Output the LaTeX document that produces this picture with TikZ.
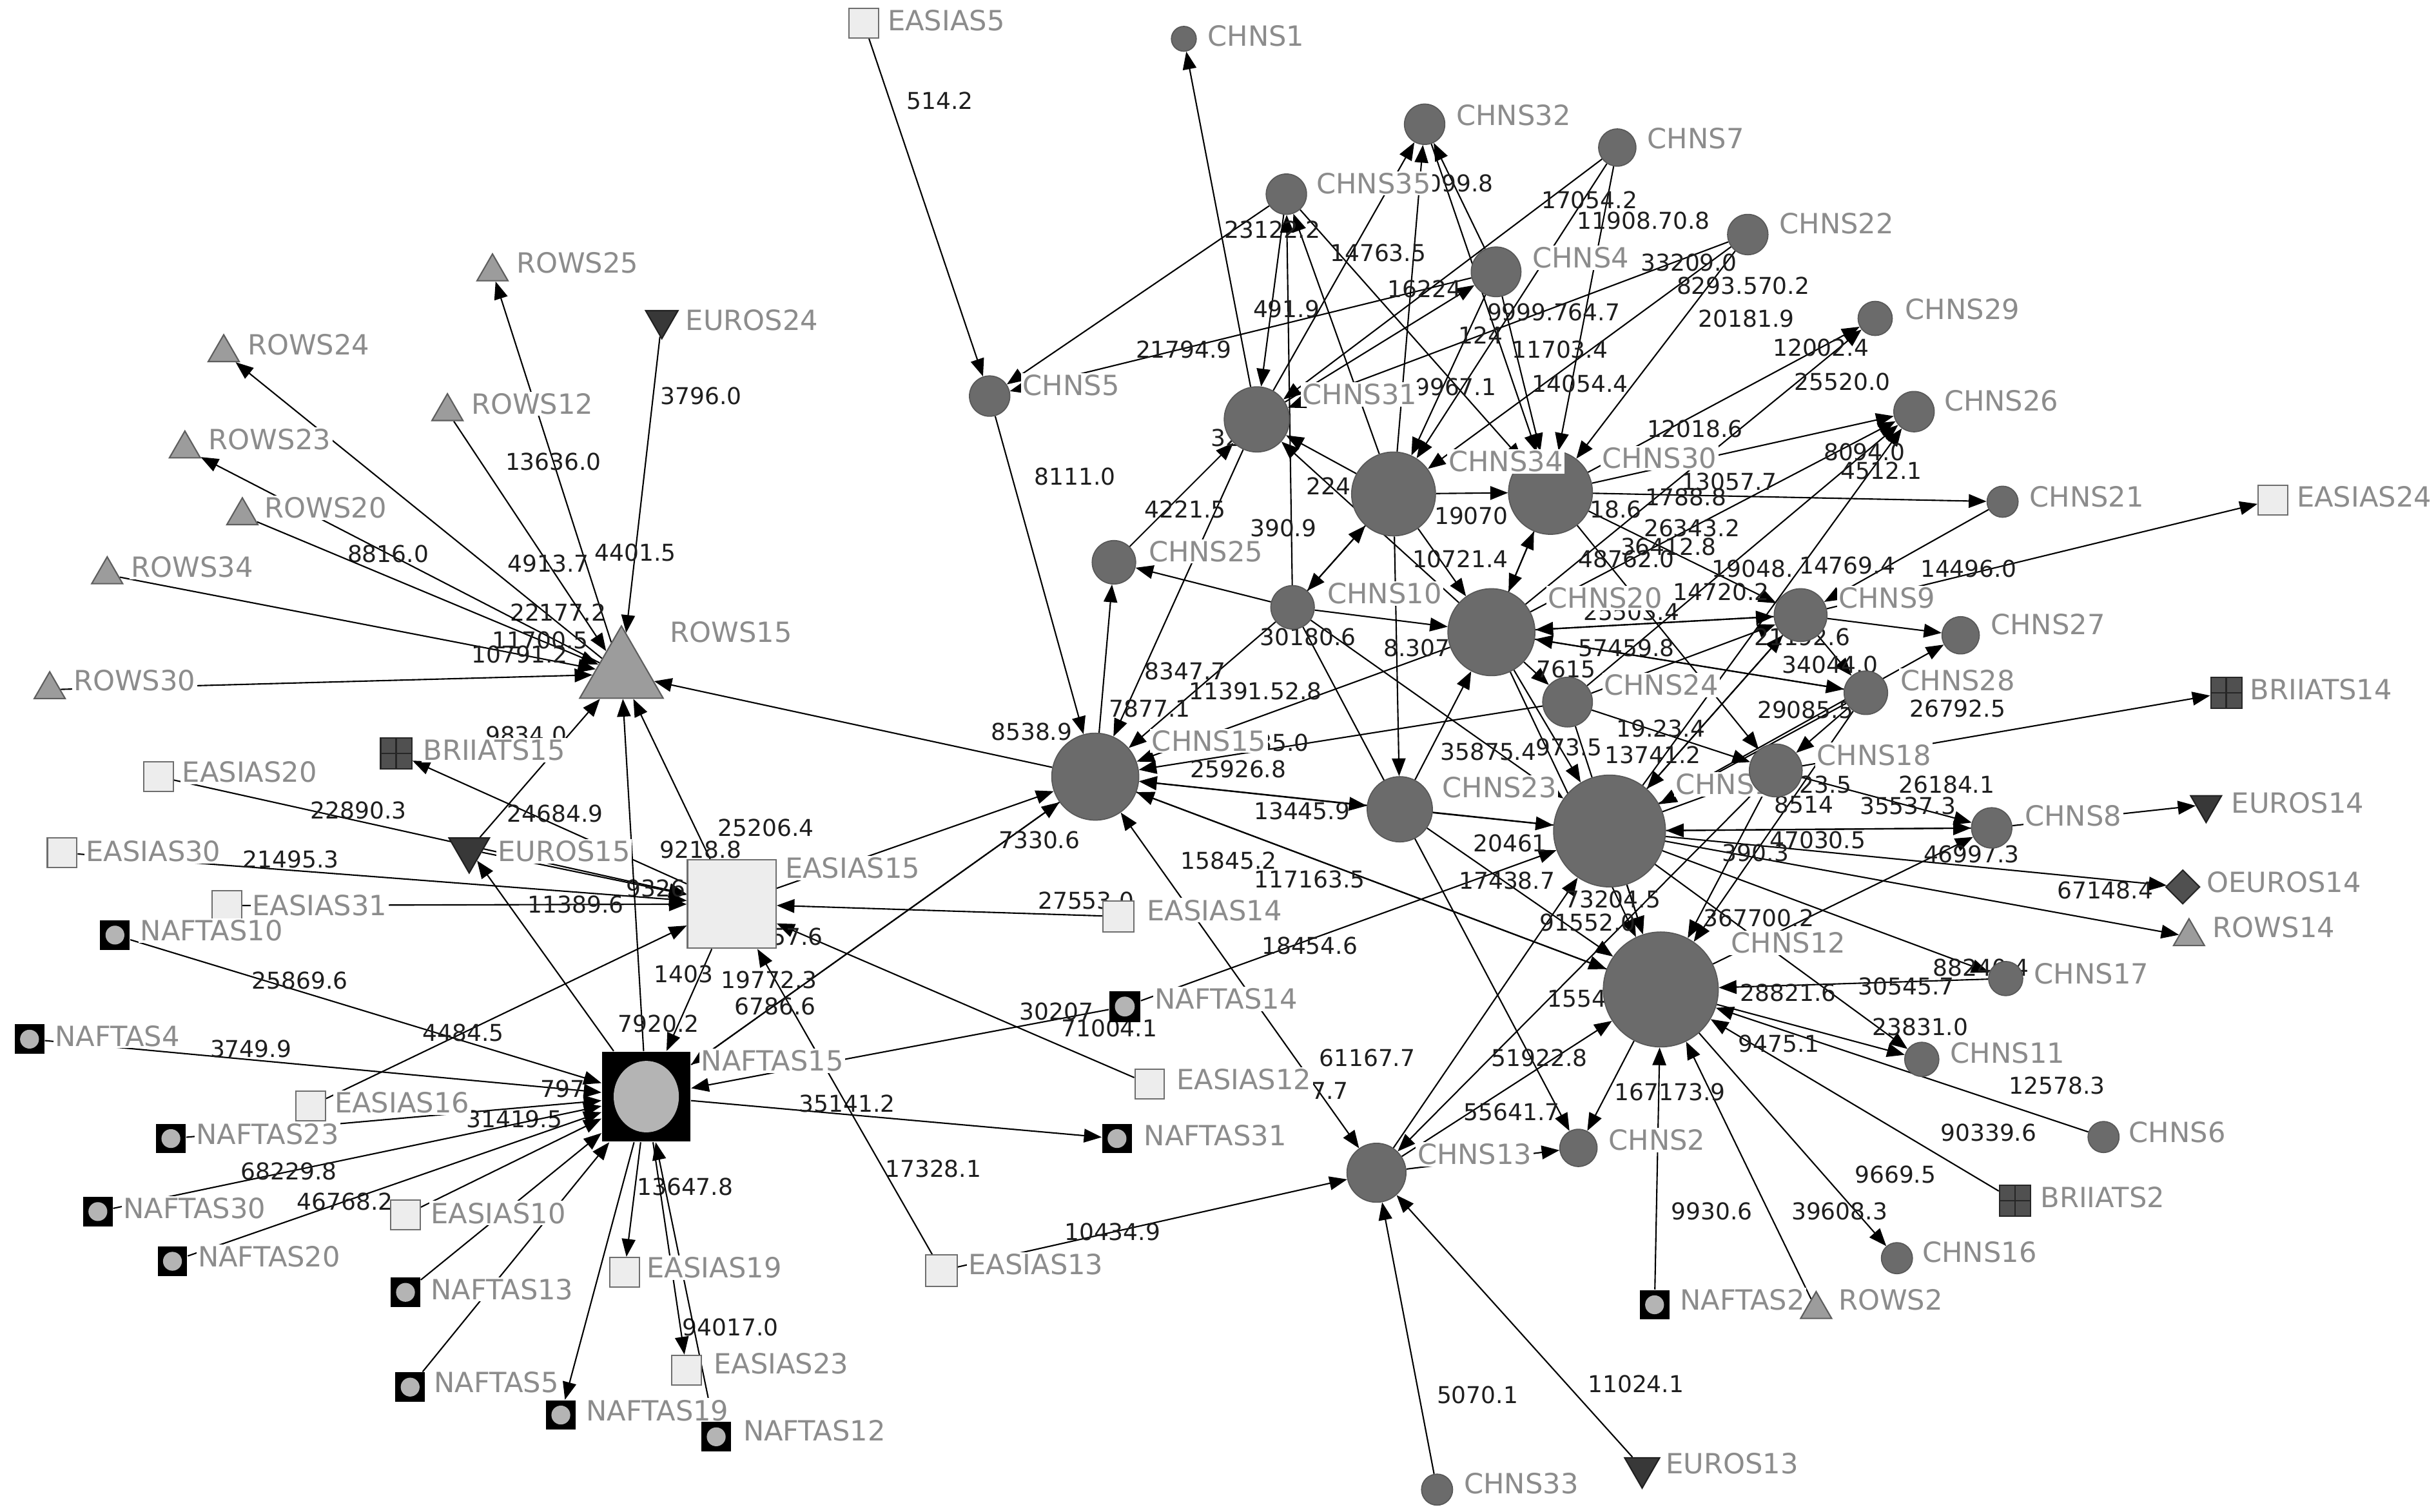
\documentclass[tikz,border=0pt]{standalone}
\usepackage{fontspec}
\setmainfont{DejaVu Sans}
\usetikzlibrary{shapes.geometric,arrows.meta}
\definecolor{chf}{HTML}{6B6B6B}
\definecolor{chd}{HTML}{585858}
\definecolor{esf}{HTML}{EDEDED}
\definecolor{esd}{HTML}{6E6E6E}
\definecolor{rwf}{HTML}{9C9C9C}
\definecolor{rwd}{HTML}{5E5E5E}
\definecolor{euf}{HTML}{383838}
\definecolor{eud}{HTML}{202020}
\definecolor{brf}{HTML}{505050}
\definecolor{brd}{HTML}{262626}
\definecolor{nff}{HTML}{B4B4B4}
\definecolor{nmc}{HTML}{8C8C8C}
\definecolor{elc}{HTML}{1E1E1E}
\newcommand\nmfnt{\fontsize{10.2}{12}\selectfont}
\newcommand\elfnt{\fontsize{8.5}{10}\selectfont}
\pgfdeclarelayer{bg}
\pgfsetlayers{bg,main}
\begin{document}
\begin{tikzpicture}[x=0.02cm,y=-0.02cm,
 chn/.style={circle,fill=chf,draw=chd,line width=0.4pt,inner sep=0pt,minimum size=#1*0.04cm},
 esq/.style={rectangle,fill=esf,draw=esd,line width=0.5pt,inner sep=0pt,minimum size=#1*0.02cm},
 esq/.default=19,
 naf/.style={rectangle,fill=black,inner sep=0pt,minimum size=#1*0.02cm,
   path picture={\fill[nff] (path picture bounding box.center) circle[radius=#1*0.0064cm];}},
 naf/.default=19,
 rows/.style={regular polygon,regular polygon sides=3,fill=rwf,draw=rwd,line width=0.5pt,inner sep=0pt,minimum size=#1*0.02cm},
 rows/.default=23,
 eur/.style={regular polygon,regular polygon sides=3,shape border rotate=180,fill=euf,draw=eud,line width=0.5pt,inner sep=0pt,minimum size=#1*0.02cm},
 eur/.default=24,
 bri/.style={rectangle,fill=brf,draw=brd,line width=0.5pt,inner sep=0pt,minimum size=#1*0.02cm,
   path picture={\draw[brd,line width=0.6pt] (path picture bounding box.north) -- (path picture bounding box.south);
                 \draw[brd,line width=0.6pt] (path picture bounding box.west) -- (path picture bounding box.east);}},
 bri/.default=20,
 oeu/.style={diamond,fill=brf,draw=brd,line width=0.5pt,inner sep=0pt,minimum size=#1*0.02cm},
 nmlab/.style={text=nmc,font=\nmfnt,inner sep=0.6pt,fill=white,anchor=west},
 elab/.style={text=elc,font=\elfnt,inner sep=0.5pt},
 edg/.style={draw=black,line width=0.5pt,-{Triangle[length=6.5pt,width=5pt]}},
 edg2/.style={draw=black,line width=0.5pt,{Triangle[length=6.5pt,width=5pt]}-{Triangle[length=6.5pt,width=5pt]}},
]
\useasboundingbox (0,0) rectangle (1568,973);
% ---------------- nodes with their names: left cluster
\node[rows] (R25) at (317,175) {};        \node[nmlab] (tR25) at (331,169) {ROWS25};
\node[rows] (R24) at (144,227) {};        \node[nmlab] (tR24) at (158,222) {ROWS24};
\node[rows] (R12) at (288,265) {};        \node[nmlab] (tR12) at (302,260) {ROWS12};
\node[rows] (R23) at (119,289) {};        \node[nmlab] (tR23) at (133,283) {ROWS23};
\node[rows] (R20) at (156,332) {};        \node[nmlab] (tR20) at (169,327) {ROWS20};
\node[rows] (R34) at (69,370) {};         \node[nmlab] (tR34) at (83,365) {ROWS34};
\node[rows] (R30) at (32,444) {};         \node[nmlab] (tR30) at (46,438) {ROWS30};
\node[rows=62] (R15) at (400,434) {};     \node[nmlab] (tR15) at (430,407) {ROWS15};
\node[eur] (E24) at (426,206) {};         \node[nmlab] (tE24) at (440,206) {EUROS24};
\node[bri] (B15) at (255,485) {};         \node[nmlab] (tB15) at (271,483) {BRIIATS15};
\node[esq] (S20) at (102,500) {};         \node[nmlab] (tS20) at (116,497) {EASIAS20};
\node[eur=30] (E15) at (302,547) {};      \node[nmlab] (tE15) at (319,548) {EUROS15};
\node[esq] (S30) at (40,549) {};          \node[nmlab] (tS30) at (54,548) {EASIAS30};
\node[esq=57] (S15) at (471,582) {};      \node[nmlab] (tS15) at (504,559) {EASIAS15};
\node[esq] (S31) at (146,583) {};         \node[nmlab] (tS31) at (161,583) {EASIAS31};
\node[naf] (N10) at (74,602) {};          \node[nmlab] (tN10) at (89,599) {NAFTAS10};
\node[naf] (N4) at (19,669) {};           \node[nmlab] (tN4) at (34,667) {NAFTAS4};
\node[rectangle,fill=black,inner sep=0pt,minimum width=57*0.02cm,minimum height=58*0.02cm,
  path picture={\fill[nff] (path picture bounding box.center) ellipse[x radius=0.42cm,y radius=0.46cm];}] (N15) at (416,706) {};
\node[nmlab] (tN15) at (450,683) {NAFTAS15};
\node[esq] (S16) at (200,712) {};         \node[nmlab] (tS16) at (214,710) {EASIAS16};
\node[naf] (N23) at (110,733) {};         \node[nmlab] (tN23) at (125,730) {NAFTAS23};
\node[naf] (N30) at (63,780) {};          \node[nmlab] (tN30) at (78,778) {NAFTAS30};
\node[esq] (S10) at (261,782) {};         \node[nmlab] (tS10) at (276,781) {EASIAS10};
\node[naf] (N20) at (111,812) {};         \node[nmlab] (tN20) at (126,809) {NAFTAS20};
\node[naf] (N13) at (261,832) {};         \node[nmlab] (tN13) at (276,830) {NAFTAS13};
\node[esq] (S19) at (402,819) {};         \node[nmlab] (tS19) at (415,816) {EASIAS19};
\node[naf] (N5) at (264,893) {};          \node[nmlab] (tN5) at (278,890) {NAFTAS5};
\node[esq] (S23) at (442,882) {};         \node[nmlab] (tS23) at (458,878) {EASIAS23};
\node[naf] (N19) at (361,911) {};         \node[nmlab] (tN19) at (376,908) {NAFTAS19};
\node[naf] (N12) at (461,925) {};         \node[nmlab] (tN12) at (477,921) {NAFTAS12};
\node[esq=20] (S13) at (606,818) {};      \node[nmlab] (tS13) at (622,814) {EASIAS13};
\node[naf] (N31) at (719,733) {};         \node[nmlab] (tN31) at (735,731) {NAFTAS31};
\node[esq] (S12) at (740,698) {};         \node[nmlab] (tS12) at (756,695) {EASIAS12};
\node[naf=20] (N14) at (724,648) {};      \node[nmlab] (tN14) at (742,643) {NAFTAS14};
\node[esq=20] (S14) at (720,590) {};      \node[nmlab] (tS14) at (737,586) {EASIAS14};
\node[esq] (S5) at (556,15) {};           \node[nmlab] (tS5) at (570,13) {EASIAS5};
% ---------------- nodes with their names: CHN cluster
\node[chn=8] (C1) at (762,25) {};         \node[nmlab] (tC1) at (776,23) {CHNS1};
\node[chn=13] (C5) at (637,255) {};       \node[nmlab] (tC5) at (657,248) {CHNS5};
\node[chn=13] (C32) at (917,80) {};       \node[nmlab] (tC32) at (936,74) {CHNS32};
\node[chn=12] (C7) at (1041,95) {};       \node[nmlab] (tC7) at (1059,89) {CHNS7};
\node[chn=13] (C35) at (828,125) {};      \node[nmlab] (tC35) at (846,118) {CHNS35};
\node[chn=13] (C22) at (1125,151) {};     \node[nmlab] (tC22) at (1144,144) {CHNS22};
\node[chn=16] (C4) at (963,175) {};       \node[nmlab] (tC4) at (985,166) {CHNS4};
\node[chn=11] (C29) at (1207,205) {};     \node[nmlab] (tC29) at (1225,199) {CHNS29};
\node[chn=21] (C31) at (809,270) {};      \node[nmlab] (tC31) at (837,254) {CHNS31};
\node[chn=13] (C26) at (1232,265) {};     \node[nmlab] (tC26) at (1250,258) {CHNS26};
\node[chn=27] (C30) at (998,317) {};      \node[nmlab] (tC30) at (1030,295) {CHNS30};
\node[chn=27] (C34) at (897,318) {};      \node[nmlab] (tC34) at (931,297) {CHNS34};
\node[chn=10] (C21) at (1289,323) {};     \node[nmlab] (tC21) at (1305,320) {CHNS21};
\node[esq] (S24) at (1463,322) {};        \node[nmlab] (tS24) at (1477,320) {EASIAS24};
\node[chn=14] (C25) at (717,362) {};      \node[nmlab] (tC25) at (738,355) {CHNS25};
\node[chn=14] (C10) at (832,391) {};      \node[nmlab] (tC10) at (853,382) {CHNS10};
\node[chn=28] (C20) at (960,407) {};      \node[nmlab] (tC20) at (995,385) {CHNS20};
\node[chn=17] (C9) at (1159,396) {};      \node[nmlab] (tC9) at (1182,385) {CHNS9};
\node[chn=12] (C27) at (1262,409) {};     \node[nmlab] (tC27) at (1280,402) {CHNS27};
\node[chn=14] (C28) at (1201,446) {};     \node[nmlab] (tC28) at (1222,438) {CHNS28};
\node[bri] (B14) at (1433,446) {};        \node[nmlab] (tB14) at (1447,444) {BRIIATS14};
\node[chn=16] (C24) at (1009,452) {};     \node[nmlab] (tC24) at (1031,441) {CHNS24};
\node[chn=28] (C15) at (705,500) {};      \node[nmlab] (tC15) at (740,477) {CHNS15};
\node[chn=36] (C14) at (1036,535) {};     \node[nmlab] (tC14) at (1077,505) {CHNS14};
\node[chn=17] (C18) at (1143,496) {};     \node[nmlab] (tC18) at (1168,486) {CHNS18};
\node[chn=21] (C23) at (901,521) {};      \node[nmlab] (tC23) at (927,507) {CHNS23};
\node[eur=23] (U14) at (1420,518) {};     \node[nmlab] (tU14) at (1435,517) {EUROS14};
\node[chn=13] (C8) at (1282,533) {};      \node[nmlab] (tC8) at (1302,525) {CHNS8};
\node[oeu=22] (O14) at (1405,571) {};     \node[nmlab] (tO14) at (1419,568) {OEUROS14};
\node[rows] (W14) at (1409,603) {};       \node[nmlab] (tW14) at (1423,597) {ROWS14};
\node[chn=37] (C12) at (1069,637) {};     \node[nmlab] (tC12) at (1113,607) {CHNS12};
\node[chn=11] (C17) at (1291,630) {};     \node[nmlab] (tC17) at (1308,627) {CHNS17};
\node[chn=11] (C11) at (1237,682) {};     \node[nmlab] (tC11) at (1254,678) {CHNS11};
\node[chn=10] (C6) at (1354,732) {};      \node[nmlab] (tC6) at (1369,729) {CHNS6};
\node[chn=12] (C2) at (1016,739) {};      \node[nmlab] (tC2) at (1034,734) {CHNS2};
\node[chn=19] (C13) at (886,755) {};      \node[nmlab] (tC13) at (911,743) {CHNS13};
\node[bri] (B2) at (1297,773) {};         \node[nmlab] (tB2) at (1312,771) {BRIIATS2};
\node[chn=10] (C16) at (1221,810) {};     \node[nmlab] (tC16) at (1236,806) {CHNS16};
\node[naf] (N2) at (1065,840) {};         \node[nmlab] (tN2) at (1080,837) {NAFTAS2};
\node[rows] (W2) at (1169,843) {};        \node[nmlab] (tW2) at (1182,837) {ROWS2};
\node[eur=26] (U13) at (1057,945) {};     \node[nmlab] (tU13) at (1071,942) {EUROS13};
\node[chn=10] (C33) at (925,959) {};      \node[nmlab] (tC33) at (941,955) {CHNS33};
% ---------------- connectors
\begin{pgfonlayer}{bg}
\fill[white] (0,0) rectangle (1568,973);
% left cluster
\draw[edg] (R15) -- node[elab,pos=.5]{13636.0} (R25);
\draw[edg] (R15) -- node[elab,pos=.12,anchor=south]{22177.2} (R24);
\draw[edg] (R15) -- node[elab,pos=.53]{8816.0} (R23);
\draw[edg] (R12) -- node[elab,pos=.62]{4913.7} (R15);
\draw[edg] (R20) -- node[elab,pos=.83]{11700.5} (R15);
\draw[edg] (R34) -- node[elab,pos=.84]{10791.2} (R15);
\draw[edg] (R30) -- (R15);
\draw[edg] (E24) -- node[elab,pos=.2,anchor=west,xshift=2pt]{3796.0} node[elab,pos=.73]{4401.5} (R15);
\draw[edg] (E15) -- node[elab,pos=.74,anchor=east]{9834.0} (R15);
\draw[edg] (S20) -- node[elab,pos=.36,anchor=south]{22890.3} (S15);
\draw[edg] (S15) -- node[elab,pos=.48,anchor=south]{24684.9} (B15);
\draw[edg] (S30) -- node[elab,pos=.35,anchor=south]{21495.3} (S15);
\draw[edg] (S31) -- node[elab,pos=.75]{11389.6} (S15);
\draw[edg] (E15) -- node[elab,pos=.85]{9326} (S15);
\draw[edg] (N15) -- (E15);
\draw[edg] (N10) -- node[elab,pos=.36,anchor=south]{25869.6} (N15);
\draw[edg] (S16) -- node[elab,pos=.38]{4484.5} (S15);
\draw[edg] (N4) -- node[elab,pos=.37,anchor=south]{3749.9} node[elab,pos=.93]{797} (N15);
\draw[edg] (N23) -- node[elab,pos=.79,anchor=north]{31419.5} (N15);
\draw[edg] (N30) -- node[elab,pos=.36]{68229.8} (N15);
\draw[edg] (N20) -- node[elab,pos=.38]{46768.2} (N15);
\draw[edg] (N13) -- node[elab,pos=.51,anchor=north]{17330.2} (N15);
\draw[edg] (S10) -- (N15);
\draw[edg] (N5) -- (N15);
\draw[edg] (N15) -- (N19);
\draw[edg] (N15) -- node[elab,pos=.39,anchor=west]{13647.8} (S19);
\draw[edg] (N15) -- node[elab,pos=.87,anchor=west]{94017.0} (S23);
\draw[edg] (N12) -- (N15);
\draw[edg] (N15) -- node[elab,pos=.38,anchor=south]{35141.2} (N31);
\draw[edg] (S13) -- node[elab,pos=.28,anchor=west]{17328.1} (S15);
\draw[edg] (S12) -- (S15);
\draw[edg] (N14) -- (N15);
\draw[edg] (S14) -- (S15);
\draw[edg] (S15) -- (R15);
\draw[edg] (N15) -- (R15);
\draw[edg] (C15) -- (R15);
\draw[edg] (S15) -- (N15);
\draw[edg] (C15) -- (N15);
\draw[edg] (N15) -- (C15);
\draw[edg] (S15) -- (C15);
% CHN cluster
\draw[edg] (S5) -- (C5);
\draw[edg] (C5) -- (C15);
\draw[edg] (C35) -- (C5);
\draw[edg] (C4) -- (C5);
\draw[edg] (C31) -- (C1);
\draw[edg] (C10) -- (C35);
\draw[edg] (C35) -- (C31);
\draw[edg] (C34) -- (C35);
\draw[edg] (C31) -- (C32);
\draw[edg] (C34) -- (C32);
\draw[edg] (C4) -- (C32);
\draw[edg] (C7) -- (C34);
\draw[edg] (C7) -- (C31);
\draw[edg] (C7) -- (C30);
\draw[edg] (C22) -- (C31);
\draw[edg] (C22) -- (C34);
\draw[edg] (C22) -- (C30);
\draw[edg] (C31) -- (C4);
\draw[edg] (C4) -- (C34);
\draw[edg] (C4) -- (C30);
\draw[edg] (C32) -- (C30);
\draw[edg] (C35) -- (C30);
\draw[edg] (C34) -- (C31);
\draw[edg] (C20) -- (C31);
\draw[edg] (C25) -- (C31);
\draw[edg] (C31) -- (C15);
\draw[edg] (C10) -- (C25);
\draw[edg] (C15) -- (C25);
\draw[edg] (C34) -- (C10);
\draw[edg] (C10) -- (C34);
\draw[edg] (C34) -- (C23);
\draw[edg] (C23) -- (C20);
\draw[edg] (C10) -- (C15);
\draw[edg] (C20) -- (C15);
\draw[edg] (C24) -- (C15);
\draw[edg] (C14) -- (C15);
\draw[edg2] (C15) -- (C23);
\draw[edg] (C12) -- (C15);
\draw[edg] (C15) -- (C12);
\draw[edg] (N14) -- (C14);
\draw[edg2] (C15) -- (C13);
\draw[edg] (S13) -- (C13);
\draw[edg] (C33) -- (C13);
\draw[edg] (U13) -- (C13);
\draw[edg] (C13) -- (C2);
\draw[edg] (C18) -- (C13);
\draw[edg] (C10) -- (C2);
\draw[edg] (C12) -- (C2);
\draw[edg] (N2) -- (C12);
\draw[edg] (W2) -- (C12);
\draw[edg] (C12) -- (C16);
\draw[edg] (B2) -- (C12);
\draw[edg] (C6) -- (C12);
\draw[edg] (C12) -- (C11);
\draw[edg] (C14) -- (C11);
\draw[edg] (C17) -- (C12);
\draw[edg] (C14) -- (C17);
\draw[edg] (C14) -- (W14);
\draw[edg] (C14) -- (O14);
\draw[edg] (C8) -- (U14);
\draw[edg] (C18) -- (B14);
\draw[edg] (C14) -- (C8);
\draw[edg] (C18) -- (C8);
\draw[edg] (C12) -- (C8);
\draw[edg] (C9) -- (S24);
\draw[edg] (C21) -- (C9);
\draw[edg] (C30) -- (C21);
\draw[edg] (C9) -- (C27);
\draw[edg] (C14) -- (C27);
\draw[edg] (C30) -- (C29);
\draw[edg] (C20) -- (C29);
\draw[edg] (C30) -- (C26);
\draw[edg] (C24) -- (C26);
\draw[edg] (C14) -- (C26);
\draw[edg] (C20) -- (C26);
\draw[edg] (C34) -- (C30);
\draw[edg] (C34) -- (C20);
\draw[edg] (C30) -- (C20);
\draw[edg] (C20) -- (C30);
\draw[edg] (C30) -- (C9);
\draw[edg] (C30) -- (C18);
\draw[edg] (C20) -- (C9);
\draw[edg] (C20) -- (C28);
\draw[edg] (C24) -- (C9);
\draw[edg] (C9) -- (C20);
\draw[edg] (C28) -- (C20);
\draw[edg] (C20) -- (C24);
\draw[edg] (C20) -- (C14);
\draw[edg] (C24) -- (C18);
\draw[edg] (C24) -- (C12);
\draw[edg] (C23) -- (C14);
\draw[edg] (C13) -- (C14);
\draw[edg] (C14) -- (C12);
\draw[edg] (C20) -- (C12);
\draw[edg] (C23) -- (C12);
\draw[edg] (C13) -- (C12);
\draw[edg] (C18) -- (C12);
\draw[edg] (C28) -- (C12);
\draw[edg] (C9) -- (C14);
\draw[edg] (C28) -- (C14);
\draw[edg] (C14) -- (C18);
\draw[edg] (C8) -- (C14);
\draw[edg] (C14) -- (C9);
\draw[edg] (C28) -- (C18);
\draw[edg] (C9) -- (C28);
\draw[edg] (C10) -- (C20);
\draw[edg] (C10) -- (C14);
% connector labels in the dense part
\begin{scope}[every node/.style={elab}]
\node (l001) at (605,65) {514.2};
\node (l002) at (692,307) {8111.0};
\node (l003) at (664,471) {8538.9};
\node (l004) at (819,148) {23122.2};
\node (l005) at (762,225) {21794.9};
\node (l006) at (828,199) {491.9};
\node (l007) at (887,163) {14763.5};
\node (l008) at (935,118) {5099.8};
\node (l009) at (917,186) {16224};
\node (l010) at (1000,201) {9999.764.7};
\node (l011) at (1058,142) {11908.70.8};
\node (l012) at (1023,129) {17054.2};
\node (l013) at (1087,169) {33209.0};
\node (l014) at (1122,184) {8293.570.2};
\node (l015) at (1124,205) {20181.9};
\node (l016) at (953,216) {124};
\node (l017) at (1004,225) {11703.4};
\node (l018) at (937,249) {9967.1};
\node (l019) at (1017,247) {14054.4};
\node (l020) at (1091,276) {12018.6};
\node (l021) at (1113,310) {13057.7};
\node (l022) at (855,313) {224};
\node (l023) at (947,332) {19070};
\node (l024) at (1040,328) {18.6};
\node (l025) at (1085,320) {1788.8};
\node (l026) at (1089,340) {26343.2};
\node (l027) at (1074,352) {36412.8};
\node (l028) at (940,360) {10721.4};
\node (l029) at (1047,360) {48762.0};
\node (l030) at (826,340) {390.9};
\node (l031) at (763,328) {4221.5};
\node (l032) at (789,282) {32};
\node (l033) at (842,410) {30180.6};
\node (l034) at (912,417) {8.307};
\node (l035) at (1128,366) {19048.};
\node (l036) at (1189,364) {14769.4};
\node (l037) at (1108,381) {14720.2};
\node (l038) at (1160,410) {21192.6};
\node (l039) at (1178,428) {34044.0};
\node (l040) at (1047,417) {57459.8};
\node (l041) at (1050,394) {25503.4};
\node (l042) at (1008,431) {7615};
\node (l043) at (1069,469) {19.23.4};
\node (l044) at (1162,457) {29085.5};
\node (l045) at (1260,456) {26792.5};
\node (l046) at (958,484) {35875.4};
\node (l047) at (1010,481) {973.5};
\node (l048) at (1064,486) {13741.2};
\node (l049) at (826,478) {85.0};
\node (l050) at (797,495) {25926.8};
\node (l051) at (763,432) {8347.7};
\node (l052) at (808,445) {11391.52.8};
\node (l053) at (740,456) {7877.1};
\node (l054) at (838,522) {13445.9};
\node (l055) at (791,554) {15845.2};
\node (l056) at (843,566) {117163.5};
\node (l057) at (843,609) {18454.6};
\node (l058) at (880,681) {61167.7};
\node (l059) at (856,702) {7.7};
\node (l060) at (972,543) {20461};
\node (l061) at (970,567) {17438.7};
\node (l062) at (1038,579) {73204.5};
\node (l063) at (1022,594) {91552.0};
\node (l064) at (1132,591) {367700.2};
\node (l065) at (1015,643) {1554};
\node (l066) at (1151,639) {28821.6};
\node (l067) at (1227,635) {30545.7};
\node (l068) at (1275,623) {88240.4};
\node (l069) at (1236,661) {23831.0};
\node (l070) at (1145,672) {9475.1};
\node (l071) at (1324,699) {12578.3};
\node (l072) at (991,681) {51922.8};
\node (l073) at (973,716) {55641.7};
\node (l074) at (1075,703) {167173.9};
\node (l075) at (1280,729) {90339.6};
\node (l076) at (1220,756) {9669.5};
\node (l077) at (1184,780) {39608.3};
\node (l078) at (1102,780) {9930.6};
\node (l079) at (716,793) {10434.9};
\node (l080) at (951,898) {5070.1};
\node (l081) at (1053,891) {11024.1};
\node (l082) at (1175,505) {23.5};
\node (l083) at (1253,505) {26184.1};
\node (l084) at (1161,518) {8514};
\node (l085) at (1228,519) {35537.3};
\node (l086) at (1170,541) {47030.5};
\node (l087) at (1130,549) {390.3};
\node (l088) at (1269,550) {46997.3};
\node (l089) at (1355,573) {67148.4};
\node (l090) at (1267,366) {14496.0};
\node (l091) at (1172,224) {12002.4};
\node (l092) at (1186,246) {25520.0};
\node (l093) at (1200,291) {8094.0};
\node (l094) at (1211,303) {4512.1};
\node (l095) at (669,541) {7330.6};
\node (l096) at (493,533) {25206.4};
\node (l097) at (451,547) {9218.8};
\node (l098) at (495,631) {19772.3};
\node (l099) at (499,648) {6786.6};
\node (l100) at (424,659) {7920.2};
\node (l101) at (440,627) {1403};
\node (l102) at (513,603) {57.6};
\node (l103) at (699,580) {27553.0};
\node (l104) at (714,662) {71004.1};
\node (l105) at (680,651) {30207};
\end{scope}
\end{pgfonlayer}
\end{tikzpicture}
\end{document}
